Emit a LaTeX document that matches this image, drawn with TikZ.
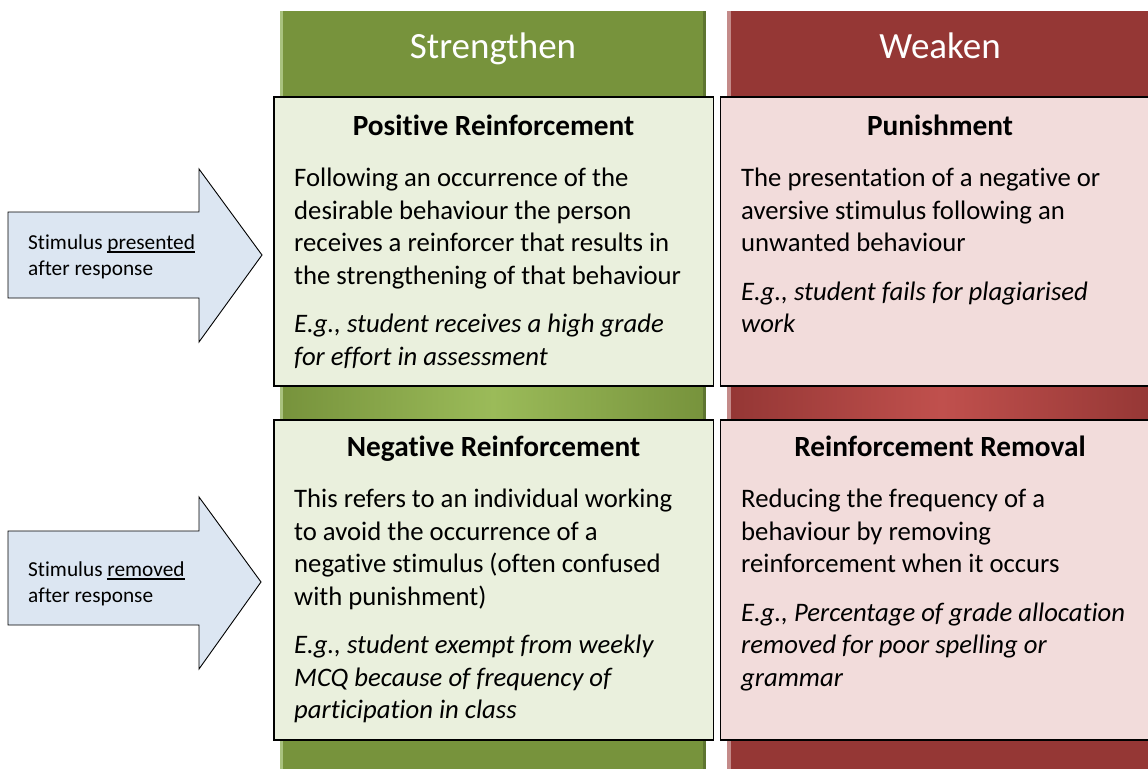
\documentclass[tikz,border=0pt]{standalone}
\usepackage{fontspec}
\setmainfont{Carlito}[Ligatures=NoCommon]
\usetikzlibrary{positioning}

\definecolor{strongdark}{HTML}{77933C}
\definecolor{strongmid}{HTML}{9BBB59}
\definecolor{strongedge}{HTML}{A9C27E}
\definecolor{strongshade}{HTML}{5E7530}
\definecolor{stronglight}{HTML}{EAF0DD}
\definecolor{weakdark}{HTML}{953735}
\definecolor{weakmid}{HTML}{C0504D}
\definecolor{weakedge}{HTML}{C48A89}
\definecolor{weaklight}{HTML}{F2DCDB}
\definecolor{cueblue}{HTML}{DCE6F2}

% underline as Word draws it: through the descenders
\newcommand{\wordul}[1]{\setbox0\hbox{#1}\rlap{\rule[-2.6pt]{\wd0}{1.1pt}}\box0}

\begin{document}
\begin{tikzpicture}[x=1pt, y=-1pt,
    card/.style={draw=black, line width=1.6pt, anchor=north west,
      minimum width=439.5pt, inner sep=0pt},
    cardtitle/.style={anchor=base, inner sep=0pt,
      font=\fontsize{29.3}{35}\selectfont\bfseries},
    cardtext/.style={anchor=north west, align=left, inner sep=0pt,
      font=\fontsize{26.7}{32.5}\selectfont},
    colhead/.style={anchor=base, inner sep=0pt, text=white,
      font=\fontsize{37}{44}\selectfont},
    cuearrow/.style={draw=black, line width=0.9pt, fill=cueblue, line join=miter},
    cuetext/.style={anchor=north west, align=left, inner sep=0pt,
      font=\fontsize{21.3}{26}\selectfont}]

    \useasboundingbox (0,0) rectangle (1148,771);
    \clip (0,0) rectangle (1148,771);

    % the two columns behind the cards
    \fill[strongdark] (280,11) rectangle (706,769);
    \shade[left color=strongdark, right color=strongdark, middle color=strongmid]
      (283,385) rectangle (703,419);
    \fill[strongedge] (280,11) rectangle (283,769);
    \fill[strongshade] (703,11) rectangle (706,769);

    \fill[weakdark] (727,11) rectangle (1153,769);
    \shade[left color=weakdark, right color=weakdark, middle color=weakmid]
      (731,385) rectangle (1153,419);
    \fill[weakedge] (727,11) rectangle (731,769);

    \node[colhead] (strong) at (493,58) {Strengthen};
    \node[colhead] (weak) at (940,58) {Weaken};

    % the four cards
    \node[card, fill=stronglight, minimum height=289pt] (pr) at (273,96) {};
    \node[card, fill=weaklight, minimum height=289pt] (pu) at (719.5,96) {};
    \node[card, fill=stronglight, minimum height=320pt] (nr) at (273,419) {};
    \node[card, fill=weaklight, minimum height=320pt] (rr) at (719.5,419) {};

    \node[cardtitle] (prtitle) at ([yshift=-39pt]pr.north) {Positive Reinforcement};
    \node[cardtext] (prtext) at ([xshift=21pt,yshift=-72pt]pr.north west)
      {Following an occurrence of the\\
       desirable behaviour the person\\
       receives a reinforcer that results in\\
       the strengthening of that behaviour\\[16pt]
       \itshape E.g., student receives a high grade\\
       \itshape for effort in assessment};

    \node[cardtitle] (putitle) at ([yshift=-39pt]pu.north) {Punishment};
    \node[cardtext] (putext) at ([xshift=21.5pt,yshift=-72pt]pu.north west)
      {The presentation of a negative or\\
       aversive stimulus following an\\
       unwanted behaviour\\[16pt]
       \itshape E.g., student fails for plagiarised\\
       \itshape work};

    \node[cardtitle] (nrtitle) at ([yshift=-37pt]nr.north) {Negative Reinforcement};
    \node[cardtext] (nrtext) at ([xshift=21pt,yshift=-70pt]nr.north west)
      {This refers to an individual working\\
       to avoid the occurrence of a\\
       negative stimulus (often confused\\
       with punishment)\\[16pt]
       \itshape E.g., student exempt from weekly\\
       \itshape MCQ because of frequency of\\
       \itshape participation in class};

    \node[cardtitle] (rrtitle) at ([yshift=-37pt]rr.north) {Reinforcement Removal};
    \node[cardtext] (rrtext) at ([xshift=21.5pt,yshift=-70pt]rr.north west)
      {Reducing the frequency of a\\
       behaviour by removing\\
       reinforcement when it occurs\\[16pt]
       \itshape E.g., Percentage of grade allocation\\
       \itshape removed for poor spelling or\\
       \itshape grammar};

    % block arrows on the left
    \draw[cuearrow] (8,212) -- (199,212) -- (199,169) -- (262,255)
      -- (199,342) -- (199,298) -- (8,298) -- cycle;
    \node[cuetext] (presented) at (28,235)
      {Stimulus \wordul{presented}\\ after response};

    \draw[cuearrow] (8,531) -- (199,531) -- (199,497) -- (261,582)
      -- (199,669) -- (199,625) -- (8,625) -- cycle;
    \node[cuetext] (removed) at (28,562)
      {Stimulus \wordul{removed}\\ after response};
\end{tikzpicture}
\end{document}
